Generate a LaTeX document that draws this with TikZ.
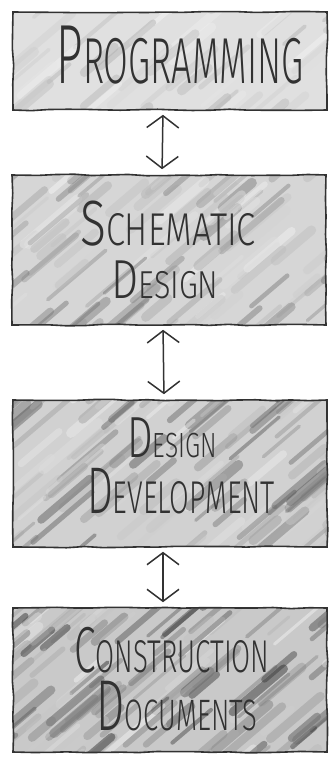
\documentclass[tikz,border=0pt]{standalone}
\usepackage{fontspec}
\setmainfont{Fira Sans Light}
\usetikzlibrary{arrows.meta,decorations.pathmorphing}

\definecolor{ink}{RGB}{50,50,50}

% hand lettering: first letter large, the rest as small capitals
\newcommand\hw[5]{\scalebox{#1}[1]{{\fontsize{#2}{#2}\selectfont #4}{\fontsize{#3}{#3}\selectfont #5}}}

% pencil shading inside a box
\newcommand\smudge[3]{%
  \pgfmathsetseed{#1}
  \foreach \k in {1,...,#2}{
    \pgfmathsetmacro\sx{rnd*360-30}
    \pgfmathsetmacro\sy{rnd*190-10}
    \pgfmathsetmacro\sl{20+40*rnd}
    \pgfmathsetmacro\sw{3+7*rnd}
    \pgfmathsetmacro\sg{#3*rnd}
    \draw[line width=\sw pt, black!\sg, opacity=.4, line cap=round]
      ([shift={(\sx,\sy)}]path picture bounding box.north west) -- ++(\sl,-0.85*\sl);
  }}

\begin{document}
\begin{tikzpicture}[x=1pt, y=-1pt,
    box/.style = {
      draw=ink,
      line width=1.6pt,
      minimum width=314pt,
      inner sep=0pt,
      decorate,
      decoration={random steps, segment length=18pt, amplitude=.8pt}
    },
    hand/.style = {
      text=ink,
      anchor=base,
      inner sep=0pt
    },
    arrow/.style = {
      ink,
      line width=1.5pt,
      shorten <=4pt,
      shorten >=5pt,
      {Straight Barb[length=12pt,width=32pt]}-{Straight Barb[length=12pt,width=32pt]}
    }
  ]
  \useasboundingbox (0,0) rectangle (331,758);

  % Boxes, darker towards the bottom
  \node[box, minimum height=98pt,  fill=gray!24, path picture={\smudge{3}{70}{35}}]  (prog)   at (170,61)    {};
  \node[box, minimum height=150pt, fill=gray!32, path picture={\smudge{5}{110}{60}}] (schem)  at (169,250)   {};
  \node[box, minimum height=147pt, fill=gray!36, path picture={\smudge{8}{120}{75}}] (devel)  at (170,473.5) {};
  \node[box, minimum height=144pt, fill=gray!42, path picture={\smudge{11}{130}{95}}] (constr) at (170,680)   {};

  % Lettering
  \node[hand] (progT)   at (180,83)  {\hw{.55}{84}{65}{P}{ROGRAMMING}};
  \node[hand] (schemT)  at (168,245) {\hw{.75}{64}{46}{S}{CHEMATIC}};
  \node[hand] (schemU)  at (165,298) {\hw{.78}{55}{39}{D}{ESIGN}};
  \node[hand] (develT)  at (172,457) {\hw{.7}{58}{35}{D}{ESIGN}};
  \node[hand] (develU)  at (181,513) {\hw{.62}{66}{46}{D}{EVELOPMENT}};
  \node[hand] (constrT) at (172,672) {\hw{.6}{65}{46}{C}{ONSTRUCTION}};
  \node[hand] (constrU) at (177,730) {\hw{.62}{72}{44}{D}{OCUMENTS}};

  % Arrows
  \draw[arrow] ([xshift=-7pt]prog.south)  -- ([xshift=-7pt]schem.north);
  \draw[arrow] ([xshift=-6pt]schem.south) -- ([xshift=-6pt]devel.north);
  \draw[arrow] ([xshift=-7pt]devel.south) -- ([xshift=-7pt]constr.north);

\end{tikzpicture}
\end{document}
